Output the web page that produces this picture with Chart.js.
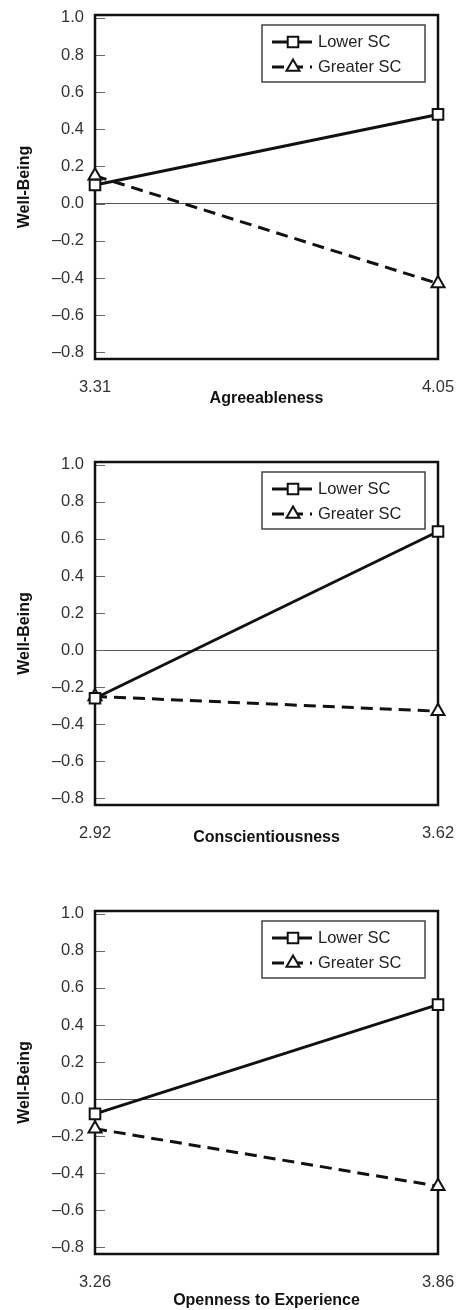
<!DOCTYPE html>
<html>
<head>
<meta charset="utf-8">
<script src="https://cdn.jsdelivr.net/npm/chart.js@4.4.0/dist/chart.umd.min.js"></script>
<style>
  html, body { margin: 0; padding: 0; background: #fff; overflow: hidden; }
  .panel { position: absolute; left: 0; width: 456px; }
</style>
</head>
<body>
<div class="panel" id="p0"><canvas id="c0"></canvas></div>
<div class="panel" id="p1"><canvas id="c1"></canvas></div>
<div class="panel" id="p2"><canvas id="c2"></canvas></div>
<script>
(function () {
  "use strict";

  // data
  var seriesNames = ["Lower SC", "Greater SC"];
  var panelTitles = ["Agreeableness", "Conscientiousness", "Openness to Experience"];
  var xLow = [3.31, 2.92, 3.26];
  var xHigh = [4.05, 3.62, 3.86];
  var lowerSC = [[0.10, 0.48], [-0.26, 0.64], [-0.08, 0.51]];
  var greaterSC = [[0.15, -0.43], [-0.25, -0.33], [-0.16, -0.47]];
  var yTicks = [-0.8, -0.6, -0.4, -0.2, 0.0, 0.2, 0.4, 0.6, 0.8, 1.0];
  var yTitle = "Well-Being";

  // layout (per panel)
  var panelTop = [0, 447, 896];
  var plotHeight = [344, 343, 343];
  var titlePadBottom = [11, 18, 4];

  var fontFamily = "'Liberation Sans', Arial, Helvetica, sans-serif";
  var ink = "#111";

  var framePlugin = {
    id: "frame",
    beforeDatasetsDraw: function (chart) {
      var ctx = chart.ctx;
      var a = chart.chartArea;
      var y = chart.scales.y;
      ctx.save();
      ctx.strokeStyle = "#666";
      ctx.lineWidth = 1;
      y.ticks.forEach(function (t) {
        var py = Math.round(y.getPixelForValue(t.value)) + 0.5;
        ctx.beginPath();
        ctx.moveTo(a.left, py);
        ctx.lineTo(a.left + 10, py);
        ctx.stroke();
      });
      ctx.strokeStyle = ink;
      ctx.lineWidth = 2.5;
      ctx.strokeRect(a.left, a.top, a.right - a.left, a.bottom - a.top);
      ctx.restore();
    },
    afterDraw: function (chart) {
      var ctx = chart.ctx;
      var a = chart.chartArea;
      var boxW = 163, boxH = 57;
      var bx = a.right - 13 - boxW;
      var by = a.top + 10;
      ctx.save();
      ctx.fillStyle = "#fff";
      ctx.fillRect(bx, by, boxW, boxH);
      ctx.strokeStyle = "#444";
      ctx.lineWidth = 1.5;
      ctx.strokeRect(bx, by, boxW, boxH);
      chart.data.datasets.forEach(function (ds, i) {
        var ry = by + 17 + i * 25;
        ctx.strokeStyle = ds.borderColor;
        ctx.lineWidth = ds.borderWidth;
        ctx.setLineDash(ds.borderDash || []);
        ctx.beginPath();
        ctx.moveTo(bx + 10, ry);
        ctx.lineTo(bx + 50, ry);
        ctx.stroke();
        ctx.setLineDash([]);
        ctx.fillStyle = ds.pointBackgroundColor;
        ctx.strokeStyle = ds.pointBorderColor;
        ctx.lineWidth = ds.pointBorderWidth;
        Chart.helpers.drawPoint(ctx, {
          pointStyle: ds.pointStyle,
          radius: ds.pointRadius,
          borderWidth: ds.pointBorderWidth,
          rotation: 0
        }, bx + 31, ry);
        ctx.fillStyle = "#222";
        ctx.font = "16.5px " + fontFamily;
        ctx.textBaseline = "middle";
        ctx.textAlign = "left";
        ctx.fillText(ds.label, bx + 56, ry);
      });
      ctx.restore();
    }
  };

  function points(i, values) {
    return [{ x: xLow[i], y: values[0] }, { x: xHigh[i], y: values[1] }];
  }

  function formatY(v) {
    var s = Math.abs(v).toFixed(1);
    return v < -0.001 ? "\u2013" + s : s;
  }

  // keep tick label overhang from shrinking the plot box
  function noEdgePadding(scale) {
    scale.paddingLeft = 0;
    scale.paddingRight = 0;
    scale.paddingTop = 0;
    scale.paddingBottom = 0;
  }

  function initPanel(i) {
    var wrap = document.getElementById("p" + i);
    var canvas = document.getElementById("c" + i);
    var h = 15 + plotHeight[i] + 60;
    wrap.style.top = panelTop[i] + "px";
    canvas.width = 456;
    canvas.height = h;
    canvas.style.width = "456px";
    canvas.style.height = h + "px";

    new Chart(canvas, {
      type: "line",
      data: {
        datasets: [
          {
            label: seriesNames[0],
            data: points(i, lowerSC[i]),
            borderColor: ink,
            borderWidth: 3,
            pointStyle: "rect",
            pointRadius: 7.5,
            pointBackgroundColor: "#fff",
            pointBorderColor: ink,
            pointBorderWidth: 2,
            clip: false
          },
          {
            label: seriesNames[1],
            data: points(i, greaterSC[i]),
            borderColor: ink,
            borderWidth: 3,
            borderDash: [12, 7],
            pointStyle: "triangle",
            pointRadius: 7.5,
            pointBackgroundColor: "#fff",
            pointBorderColor: ink,
            pointBorderWidth: 2,
            clip: false
          }
        ]
      },
      options: {
        responsive: false,
        animation: false,
        layout: { padding: { top: 15, right: 18, bottom: 0, left: 0 } },
        plugins: {
          legend: { display: false },
          tooltip: { enabled: false }
        },
        scales: {
          x: {
            type: "linear",
            min: xLow[i],
            max: xHigh[i],
            afterBuildTicks: function (scale) {
              scale.ticks = [{ value: xLow[i] }, { value: xHigh[i] }];
            },
            afterFit: function (scale) {
              scale.height = 60;
              noEdgePadding(scale);
            },
            grid: { display: false, drawTicks: false },
            border: { display: false },
            ticks: {
              padding: 19,
              color: "#333",
              font: { family: fontFamily, size: 16.5 },
              maxRotation: 0,
              callback: function (v) { return Number(v).toFixed(2); }
            },
            title: {
              display: true,
              text: panelTitles[i],
              color: ink,
              font: { family: fontFamily, size: 16, weight: "bold" },
              padding: { top: 0, bottom: titlePadBottom[i] }
            }
          },
          y: {
            min: -0.836,
            max: 1.015,
            afterBuildTicks: function (scale) {
              scale.ticks = yTicks.map(function (v) { return { value: v }; });
            },
            afterFit: function (scale) {
              scale.width = 95;
              noEdgePadding(scale);
            },
            grid: {
              drawTicks: false,
              lineWidth: 1,
              color: function (c) {
                return c.tick && Math.abs(c.tick.value) < 1e-9 ? "#555" : "rgba(0,0,0,0)";
              }
            },
            border: { display: false },
            ticks: {
              padding: 11,
              color: "#333",
              font: { family: fontFamily, size: 16.5 },
              callback: function (v) { return formatY(v); }
            },
            title: {
              display: true,
              text: yTitle,
              color: ink,
              font: { family: fontFamily, size: 16, weight: "bold" },
              padding: { top: 15, bottom: 0 }
            }
          }
        }
      },
      plugins: [framePlugin]
    });
  }

  initPanel(0);
  initPanel(1);
  initPanel(2);
})();
</script>
</body>
</html>
